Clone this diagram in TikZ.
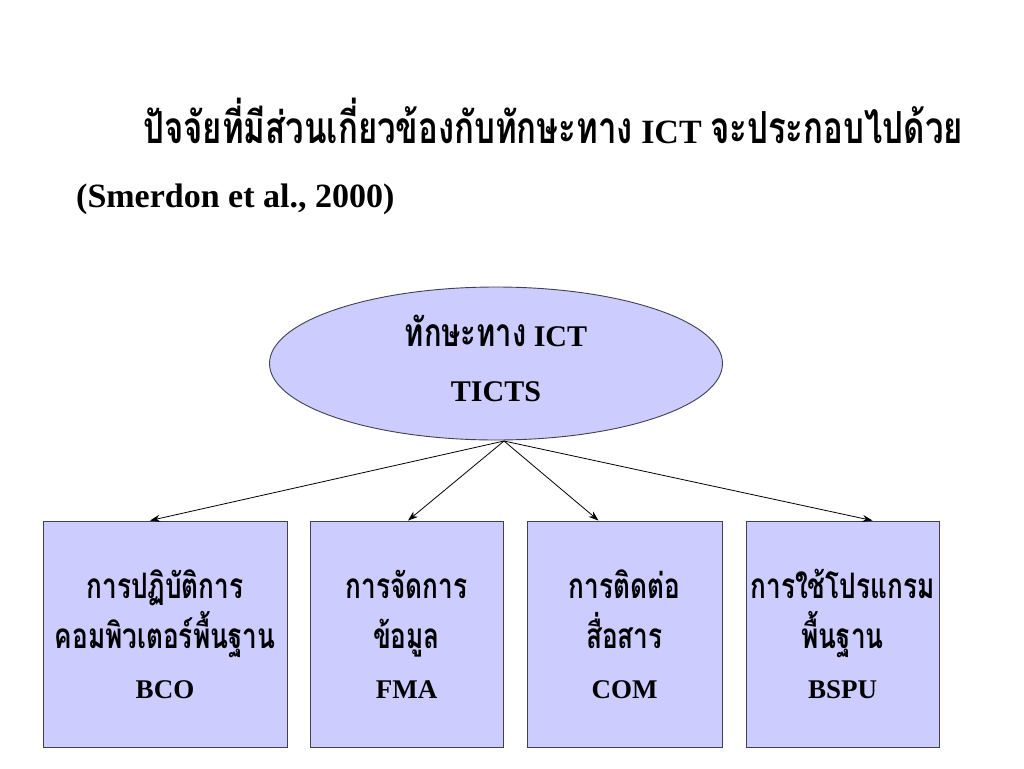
\documentclass[tikz,border=0pt]{standalone}
\usepackage{fontspec}
\usepackage{graphicx}
\setmainfont{Liberation Serif}
\newfontfamily\thai[Script=Thai]{Loma}
\usetikzlibrary{shapes.geometric,arrows.meta,calc}
\definecolor{lav}{HTML}{CCCCFF}
\definecolor{edge}{HTML}{404050}
\tikzset{
  boxnode/.style={draw=edge, line width=0.9pt, fill=lav, minimum height=226pt, align=center, inner sep=0pt, font=\bfseries\fontsize{27}{50}\selectfont},
  ellnode/.style={ellipse, draw=edge, line width=0.9pt, fill=lav, minimum width=453pt, minimum height=153pt, inner sep=0pt},
  elltext/.style={align=center, inner sep=0pt, font=\bfseries\fontsize{30}{55}\selectfont},
  conn/.style={draw=black, line width=0.8pt, -{Stealth[length=10pt,width=7pt]}}
}
\newcommand{\tht}[1]{\scalebox{0.97}[1.3]{\thai\bfseries #1}}
\begin{document}
\begin{tikzpicture}[x=1pt,y=-1pt]
\useasboundingbox (0,0) rectangle (1024,768);
\node[anchor=base west, inner sep=0pt, font=\bfseries\fontsize{34}{40}\selectfont] (title) at (143,143) {\tht{ปัจจัยที่มีส่วนเกี่ยวข้องกับทักษะทาง} ICT \tht{จะประกอบไปด้วย}};
\node[anchor=base west, inner sep=0pt, font=\bfseries\fontsize{34}{40}\selectfont] (cite) at (76,207) {(Smerdon et al., 2000)};
\node[ellnode] (e) at (496,363.5) {};
\node[elltext] (et) at (496,358) {\tht{ทักษะทาง} ICT\\TICTS};
\node[boxnode, minimum width=244pt] (b1) at (165,634) {\tht{การปฏิบัติการ}\\\tht{คอมพิวเตอร์พื้นฐาน}\\BCO};
\node[boxnode, minimum width=193pt] (b2) at (406.5,634) {\tht{การจัดการ}\\\tht{ข้อมูล}\\FMA};
\node[boxnode, minimum width=195pt] (b3) at (624.5,634) {\tht{การติดต่อ}\\\tht{สื่อสาร}\\COM};
\node[boxnode, minimum width=193pt] (b4) at (842.5,634) {\tht{การใช้โปรแกรม}\\\tht{พื้นฐาน}\\BSPU};
\coordinate (apex) at (504,441);
\draw[conn] (apex) -- ($(b1.north)+(-15,0)$);
\draw[conn] (apex) -- ($(b2.north)+(1.5,0)$);
\draw[conn] (apex) -- ($(b3.north)+(-26,0)$);
\draw[conn] (apex) -- ($(b4.north)+(30,0)$);
\end{tikzpicture}
\end{document}
